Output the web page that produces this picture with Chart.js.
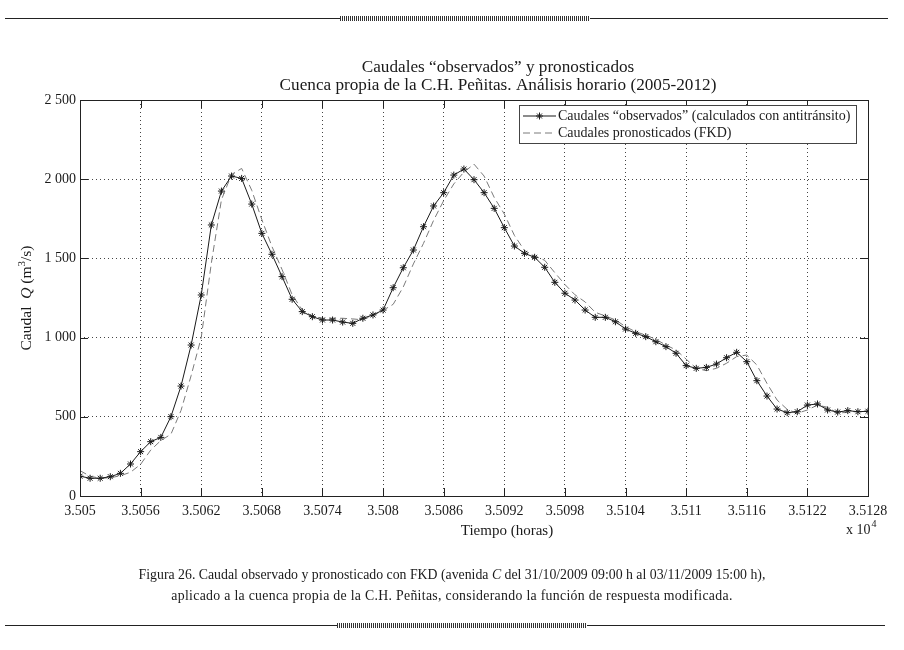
<!DOCTYPE html>
<html>
<head>
<meta charset="utf-8">
<script src="https://cdn.jsdelivr.net/npm/chart.js@4.4.0/dist/chart.umd.min.js"></script>
<style>
  body { margin: 0; background: #fff; }
  #page { position: relative; width: 904px; height: 650px; overflow: hidden; font-family: "Liberation Serif", serif; color: #1a1a1a; }
  #box { position: absolute; left: 0; top: 0; width: 904px; height: 650px; }
  .rule { position: absolute; height: 1px; background: #222; }
  .band { position: absolute; height: 5px; background: repeating-linear-gradient(90deg, #333 0 1px, #fff 1px 2px); }
  .cap { position: absolute; left: 0; width: 904px; text-align: center; font-size: 13.8px; }
</style>
</head>
<body>
<div id="page">
  <div id="box"><canvas id="chart"></canvas></div>
  <div class="rule" style="left:5px; width:883px; top:18px"></div>
  <div class="band" style="left:340px; width:250px; top:16px"></div>
  <div class="cap" style="top:567px">Figura 26. Caudal observado y pronosticado con FKD (avenida <i>C</i> del 31/10/2009 09:00 h al 03/11/2009 15:00 h),</div>
  <div class="cap" style="top:588px; letter-spacing:0.3px">aplicado a la cuenca propia de la C.H. Peñitas, considerando la función de respuesta modificada.</div>
  <div class="rule" style="left:5px; width:880px; top:625px"></div>
  <div class="band" style="left:337px; width:250px; top:623px"></div>
</div>
<script>
const hours = [
  35050, 35051, 35052, 35053, 35054, 35055, 35056, 35057, 35058, 35059,
  35060, 35061, 35062, 35063, 35064, 35065, 35066, 35067, 35068, 35069,
  35070, 35071, 35072, 35073, 35074, 35075, 35076, 35077, 35078, 35079,
  35080, 35081, 35082, 35083, 35084, 35085, 35086, 35087, 35088, 35089,
  35090, 35091, 35092, 35093, 35094, 35095, 35096, 35097, 35098, 35099,
  35100, 35101, 35102, 35103, 35104, 35105, 35106, 35107, 35108, 35109,
  35110, 35111, 35112, 35113, 35114, 35115, 35116, 35117, 35118, 35119,
  35120, 35121, 35122, 35123, 35124, 35125, 35126, 35127, 35128
];
// caudales "observados" (antitránsito), m3/s
const observed = [
  125, 112, 112, 122, 143, 202, 280, 343, 370, 501,
  694, 953, 1269, 1711, 1925, 2020, 2005, 1843, 1658, 1526,
  1385, 1242, 1164, 1132, 1111, 1111, 1098, 1090, 1122, 1143,
  1174, 1315, 1441, 1553, 1700, 1831, 1915, 2026, 2064, 1997,
  1915, 1816, 1694, 1578, 1532, 1507, 1444, 1349, 1280, 1237,
  1174, 1128, 1128, 1100, 1054, 1027, 1006, 974, 943, 901,
  823, 806, 812, 833, 873, 907, 848, 728, 631, 549,
  526, 532, 574, 581, 543, 530, 539, 532, 535
];
// caudales pronosticados (FKD)
const forecast = [
  160, 125, 112, 115, 128, 150, 200, 290, 350, 390,
  540, 760, 1000, 1470, 1870, 2030, 2068, 1930, 1745, 1575,
  1430, 1270, 1175, 1135, 1122, 1122, 1122, 1118, 1112, 1140,
  1172, 1210, 1320, 1465, 1595, 1740, 1865, 1970, 2045, 2095,
  2020, 1885, 1780, 1645, 1550, 1515, 1488, 1410, 1335, 1270,
  1225, 1160, 1136, 1112, 1069, 1037, 1016, 989, 953, 922,
  864, 806, 791, 806, 838, 880, 890, 827, 711, 606,
  547, 522, 543, 574, 560, 522, 530, 535, 535
];
const xTicks = [35050, 35056, 35062, 35068, 35074, 35080, 35086, 35092, 35098, 35104, 35110, 35116, 35122, 35128];
const yTicks = [0, 500, 1000, 1500, 2000, 2500];

const serif = '"Liberation Serif", serif';
const ink = '#1a1a1a';

function starAt(ctx, cx, cy, r) {
  ctx.beginPath();
  for (let k = 0; k < 4; k++) {
    const a = k * Math.PI / 4;
    ctx.moveTo(cx + r * Math.cos(a), cy + r * Math.sin(a));
    ctx.lineTo(cx - r * Math.cos(a), cy - r * Math.sin(a));
  }
  ctx.stroke();
}

const frame = {
  id: 'frame',
  afterDraw(chart) {
    const { ctx, chartArea: a, scales: { x, y } } = chart;
    ctx.save();
    ctx.strokeStyle = '#222';
    ctx.lineWidth = 1;
    ctx.strokeRect(a.left + 0.5, a.top + 0.5, a.right - a.left, a.bottom - a.top);

    // marcas hacia dentro en los cuatro lados
    ctx.beginPath();
    xTicks.forEach(v => {
      const px = Math.round(x.getPixelForValue(v)) + 0.5;
      ctx.moveTo(px, a.bottom); ctx.lineTo(px, a.bottom - 8);
      ctx.moveTo(px, a.top); ctx.lineTo(px, a.top + 8);
    });
    yTicks.forEach(v => {
      const py = Math.round(y.getPixelForValue(v)) + 0.5;
      ctx.moveTo(a.left, py); ctx.lineTo(a.left + 8, py);
      ctx.moveTo(a.right, py); ctx.lineTo(a.right - 8, py);
    });
    ctx.stroke();

    ctx.fillStyle = ink;
    ctx.textBaseline = 'middle';

    // título
    ctx.font = '17.2px ' + serif;
    ctx.textAlign = 'center';
    ctx.fillText('Caudales “observados” y pronosticados', 498, 67);
    ctx.fillText('Cuenca propia de la C.H. Peñitas. Análisis horario (2005-2012)', 498, 85);

    // eje x
    ctx.font = '15px ' + serif;
    ctx.fillText('Tiempo (horas)', 507, 531);
    ctx.textAlign = 'left';
    ctx.font = '14px ' + serif;
    ctx.fillText('x 10', 846, 530);
    const w10 = ctx.measureText('x 10').width;
    ctx.font = '10px ' + serif;
    ctx.fillText('4', 846 + w10 + 1, 524);

    // eje y con Q en cursiva
    ctx.save();
    ctx.translate(27, (a.top + a.bottom) / 2);
    ctx.rotate(-Math.PI / 2);
    const parts = [
      ['Caudal  ', '15.5px ' + serif, 0],
      ['Q', 'italic 15.5px ' + serif, 0],
      [' (m', '15.5px ' + serif, 0],
      ['3', '11px ' + serif, -5],
      ['/s)', '15.5px ' + serif, 0]
    ];
    let total = 0;
    parts.forEach(p => { ctx.font = p[1]; total += ctx.measureText(p[0]).width; });
    let cx = -total / 2;
    parts.forEach(p => {
      ctx.font = p[1];
      ctx.fillText(p[0], cx, p[2]);
      cx += ctx.measureText(p[0]).width;
    });
    ctx.restore();

    // leyenda
    const lx = 519.5, ly = 105.5, lw = 337, lh = 38;
    ctx.fillStyle = '#fff';
    ctx.fillRect(lx, ly, lw, lh);
    ctx.strokeStyle = '#444';
    ctx.strokeRect(lx, ly, lw, lh);
    const ds = chart.data.datasets;
    ctx.strokeStyle = ds[0].borderColor;
    ctx.lineWidth = 1.2;
    ctx.beginPath(); ctx.moveTo(523, 116); ctx.lineTo(556, 116); ctx.stroke();
    ctx.lineWidth = 1;
    starAt(ctx, 539.5, 116, 3.5);
    ctx.strokeStyle = ds[1].borderColor;
    ctx.setLineDash(ds[1].borderDash);
    ctx.beginPath(); ctx.moveTo(523, 133); ctx.lineTo(556, 133); ctx.stroke();
    ctx.setLineDash([]);
    ctx.fillStyle = ink;
    ctx.font = '14px ' + serif;
    ctx.fillText('Caudales “observados” (calculados con antitránsito)', 558, 116);
    ctx.fillText('Caudales pronosticados (FKD)', 558, 133);
    ctx.restore();
  }
};

const tickFont = { family: serif, size: 14 };

new Chart(document.getElementById('chart'), {
  type: 'line',
  data: {
    datasets: [
      {
        label: 'Caudales “observados” (calculados con antitránsito)',
        data: hours.map((h, i) => ({ x: h, y: observed[i] })),
        borderColor: '#1a1a1a',
        borderWidth: 1,
        pointStyle: 'star',
        pointRadius: 3.5,
        pointBorderWidth: 1,
        pointBorderColor: '#1a1a1a',
        pointBackgroundColor: '#1a1a1a',
        tension: 0
      },
      {
        label: 'Caudales pronosticados (FKD)',
        data: hours.map((h, i) => ({ x: h, y: forecast[i] })),
        borderColor: '#7a7a7a',
        borderWidth: 1,
        borderDash: [7, 4],
        pointRadius: 0,
        tension: 0
      }
    ]
  },
  options: {
    responsive: true,
    maintainAspectRatio: false,
    animation: false,
    devicePixelRatio: 1,
    layout: { padding: { left: 0, right: 36, top: 100, bottom: 106 } },
    plugins: {
      legend: { display: false },
      title: { display: false },
      tooltip: { enabled: false }
    },
    scales: {
      x: {
        type: 'linear',
        min: 35050,
        max: 35128,
        afterBuildTicks: s => { s.ticks = xTicks.map(v => ({ value: v })); },
        afterFit: s => { s.height = 48; },
        grid: { color: '#444', lineWidth: 1, drawTicks: false },
        border: { display: false, dash: [1, 3] },
        ticks: {
          font: tickFont, color: ink, padding: 7, maxRotation: 0, autoSkip: false,
          callback: v => String(parseFloat((v / 1e4).toFixed(4)))
        }
      },
      y: {
        min: 0,
        max: 2500,
        afterBuildTicks: s => { s.ticks = yTicks.map(v => ({ value: v })); },
        afterFit: s => { s.width = 80; },
        grid: { color: '#444', lineWidth: 1, drawTicks: false },
        border: { display: false, dash: [1, 3] },
        ticks: {
          font: tickFont, color: ink, padding: 4,
          callback: v => String(v).replace(/\B(?=(\d{3})+$)/, ' ')
        }
      }
    }
  },
  plugins: [frame]
});
</script>
</body>
</html>
